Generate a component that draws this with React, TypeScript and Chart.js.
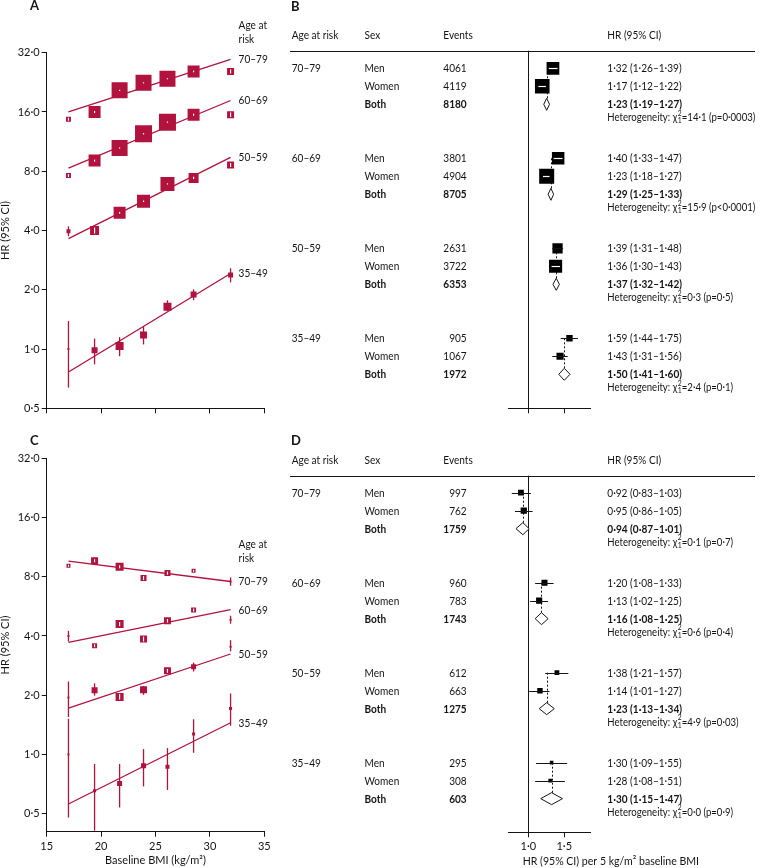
import React, { useEffect, useRef } from 'react';
import { Chart, registerables } from 'chart.js';

Chart.register(...registerables);

const FONT = 'Lato, "Noto Sans", "DejaVu Sans", sans-serif';
const CRIMSON = '#b1123e';
const INK = '#141414';
const TXT = 12;
const SX = 0.84;

// ---------------- Panels A and C: HR (95% CI) by baseline BMI ----------------
const bmiPoints = [17.0, 19.4, 21.7, 23.9, 26.1, 28.5, 31.9];
const fitEnds = [17.0, 31.9];
const bmiTicks = [15, 20, 25, 30, 35];
const hrTicks = [0.5, 1, 2, 4, 8, 16, 32];
const ageGroups = ['70–79', '60–69', '50–59', '35–49'];

// Panel A
const a70Hr = [14.7, 16.0, 20.6, 22.5, 23.6, 25.7, 25.7];
const a70Lo = [14.32, 15.8, 20.45, 22.35, 23.45, 25.45, 25.1];
const a70Hi = [15.08, 16.2, 20.75, 22.65, 23.75, 25.95, 26.3];
const a70Weight = [25, 144, 256, 256, 256, 144, 49];
const a70Fit = [16.0, 29.6];

const a60Hr = [7.6, 9.06, 10.5, 12.4, 14.2, 15.5, 15.5];
const a60Lo = [7.42, 8.96, 10.42, 12.3, 14.1, 15.32, 15.1];
const a60Hi = [7.78, 9.16, 10.58, 12.5, 14.3, 15.68, 15.9];
const a60Weight = [25, 144, 256, 289, 289, 144, 49];
const a60Fit = [8.3, 18.3];

const a50Hr = [3.97, 4.0, 4.92, 5.63, 6.9, 7.4, 8.6];
const a50Lo = [3.74, 3.86, 4.87, 5.58, 6.85, 7.3, 8.4];
const a50Hi = [4.2, 4.14, 4.97, 5.68, 6.95, 7.5, 8.8];
const a50Weight = [16, 81, 144, 169, 196, 100, 49];
const a50Fit = [3.64, 9.4];

const a35Hr = [1.0, 0.985, 1.035, 1.18, 1.64, 1.89, 2.38];
const a35Lo = [0.637, 0.836, 0.92, 1.055, 1.56, 1.77, 2.18];
const a35Hi = [1.387, 1.13, 1.15, 1.3, 1.77, 2.01, 2.57];
const a35Weight = [4, 36, 64, 49, 64, 36, 25];
const a35Fit = [0.764, 2.42];

// Panel C
const c70Hr = [9.1, 9.65, 8.99, 7.88, 8.35, 8.58, 7.57];
const c70Lo = [8.93, 9.48, 8.83, 7.62, 8.2, 8.42, 7.2];
const c70Hi = [9.27, 9.82, 9.15, 8.14, 8.5, 8.74, 7.94];
const c70Weight = [16, 49, 64, 36, 36, 16, 4];
const c70Fit = [9.6, 7.57];

const c60Hr = [4.0, 3.57, 4.6, 3.86, 4.78, 5.42, 4.84];
const c60Lo = [3.75, 3.47, 4.49, 3.74, 4.68, 5.28, 4.62];
const c60Hi = [4.25, 3.67, 4.71, 3.98, 4.88, 5.56, 5.07];
const c60Weight = [4, 25, 64, 49, 49, 25, 4];
const c60Fit = [3.71, 5.44];

const c50Hr = [1.95, 2.12, 1.96, 2.13, 2.66, 2.79, 3.53];
const c50Lo = [1.55, 1.99, 1.9, 2.01, 2.6, 2.64, 3.34];
const c50Hi = [2.35, 2.3, 2.03, 2.23, 2.72, 2.93, 3.81];
const c50Weight = [4, 36, 64, 49, 49, 25, 4];
const c50Fit = [1.72, 3.24];

const c35Hr = [1.0, 0.654, 0.712, 0.876, 0.866, 1.27, 1.71];
const c35Lo = [0.478, 0.41, 0.538, 0.688, 0.66, 1.02, 1.4];
const c35Hi = [1.52, 0.894, 0.894, 1.065, 1.077, 1.51, 2.04];
const c35Weight = [4, 9, 25, 25, 16, 9, 9];
const c35Fit = [0.56, 1.45];

// ---------------- Panels B and D: HR per 5 kg/m² ----------------
const sexLabels = ['Men', 'Women', 'Both'];
const forestTicks = [1, 1.5];

const bEvents = [[4061, 4119, 8180], [3801, 4904, 8705], [2631, 3722, 6353], [905, 1067, 1972]];
const bHr = [[1.32, 1.17, 1.23], [1.4, 1.23, 1.29], [1.39, 1.36, 1.37], [1.59, 1.43, 1.5]];
const bLo = [[1.26, 1.12, 1.19], [1.33, 1.18, 1.25], [1.31, 1.3, 1.32], [1.44, 1.31, 1.41]];
const bHi = [[1.39, 1.22, 1.27], [1.47, 1.27, 1.33], [1.48, 1.43, 1.42], [1.75, 1.56, 1.6]];
const bHetChi = [14.1, 15.9, 0.3, 2.4];
const bHetP = ['=0·0003', '<0·0001', '=0·5', '=0·1'];

const dEvents = [[997, 762, 1759], [960, 783, 1743], [612, 663, 1275], [295, 308, 603]];
const dHr = [[0.92, 0.95, 0.94], [1.2, 1.13, 1.16], [1.38, 1.14, 1.23], [1.3, 1.28, 1.3]];
const dLo = [[0.83, 0.86, 0.87], [1.08, 1.02, 1.08], [1.21, 1.01, 1.13], [1.09, 1.08, 1.15]];
const dHi = [[1.03, 1.05, 1.01], [1.33, 1.25, 1.25], [1.57, 1.27, 1.34], [1.55, 1.51, 1.47]];
const dHetChi = [0.1, 0.6, 4.9, 0.0];
const dHetP = ['=0·7', '=0·4', '=0·03', '=0·9'];

// ---------------- helpers ----------------
const dot = (s: string) => s.replace('.', '·');
const fmt1 = (v: number) => dot(v.toFixed(1));
const fmt2 = (v: number) => dot(v.toFixed(2));
const fontStr = (size: number, bold = false) => `${bold ? 'bold ' : ''}${size}px ${FONT}`;

function drawText(ctx: CanvasRenderingContext2D, s: string, x: number, y: number, size = TXT, bold = false, align: CanvasTextAlign = 'left', sx = SX) {
  ctx.save();
  ctx.font = fontStr(size, bold);
  ctx.fillStyle = INK;
  ctx.textAlign = align;
  ctx.textBaseline = 'middle';
  ctx.translate(x, y);
  ctx.scale(sx, 1);
  ctx.fillText(s, 0, 0);
  ctx.restore();
}

function textWidth(ctx: CanvasRenderingContext2D, s: string, size = TXT, bold = false, sx = SX) {
  ctx.save();
  ctx.font = fontStr(size, bold);
  const w = ctx.measureText(s).width * sx;
  ctx.restore();
  return w;
}

type Group = { label: string; hr: number[]; lo: number[]; hi: number[]; weight: number[]; fit: number[] };

const groupsA: Group[] = [
  { label: ageGroups[0], hr: a70Hr, lo: a70Lo, hi: a70Hi, weight: a70Weight, fit: a70Fit },
  { label: ageGroups[1], hr: a60Hr, lo: a60Lo, hi: a60Hi, weight: a60Weight, fit: a60Fit },
  { label: ageGroups[2], hr: a50Hr, lo: a50Lo, hi: a50Hi, weight: a50Weight, fit: a50Fit },
  { label: ageGroups[3], hr: a35Hr, lo: a35Lo, hi: a35Hi, weight: a35Weight, fit: a35Fit },
];
const groupsC: Group[] = [
  { label: ageGroups[0], hr: c70Hr, lo: c70Lo, hi: c70Hi, weight: c70Weight, fit: c70Fit },
  { label: ageGroups[1], hr: c60Hr, lo: c60Lo, hi: c60Hi, weight: c60Weight, fit: c60Fit },
  { label: ageGroups[2], hr: c50Hr, lo: c50Lo, hi: c50Hi, weight: c50Weight, fit: c50Fit },
  { label: ageGroups[3], hr: c35Hr, lo: c35Lo, hi: c35Hi, weight: c35Weight, fit: c35Fit },
];

const axisGrid = { drawOnChartArea: false, drawTicks: true, tickLength: 5, color: INK, lineWidth: 1 };
const axisBorder = { display: true, color: INK, width: 1 };

function bmiConfig(groups: Group[], o: { letter: string; letterY: number; yMin: number; padTop: number; xHeight: number; showX: boolean; ageDy: number }) {
  const datasets: any[] = [];
  groups.forEach((g) => {
    datasets.push({
      type: 'line',
      data: fitEnds.map((x, i) => ({ x, y: g.fit[i] })),
      borderColor: CRIMSON,
      borderWidth: 1.3,
      pointRadius: 0,
      order: 2,
    });
    datasets.push({
      type: 'scatter',
      data: bmiPoints.map((x, i) => ({ x, y: g.hr[i], lo: g.lo[i], hi: g.hi[i], w: g.weight[i] })),
      pointStyle: 'rect',
      pointRadius: (c: any) => (c.raw ? Math.sqrt(c.raw.w) / Math.SQRT2 : 0),
      pointHoverRadius: (c: any) => (c.raw ? Math.sqrt(c.raw.w) / Math.SQRT2 : 0),
      backgroundColor: CRIMSON,
      borderWidth: 0,
      order: 1,
    });
  });

  const ciPlugin = {
    id: 'ci' + o.letter,
    afterDatasetsDraw(chart: any) {
      const ctx = chart.ctx as CanvasRenderingContext2D;
      const ys = chart.scales.y;
      chart.data.datasets.forEach((ds: any, di: number) => {
        if (ds.type !== 'scatter') return;
        const meta = chart.getDatasetMeta(di);
        meta.data.forEach((el: any, i: number) => {
          const d = ds.data[i];
          const yLo = ys.getPixelForValue(d.lo);
          const yHi = ys.getPixelForValue(d.hi);
          const half = Math.sqrt(d.w) / 2;
          const inside = yLo <= el.y + half && yHi >= el.y - half;
          ctx.save();
          ctx.beginPath();
          if (inside) {
            let top = Math.max(yHi, el.y - half + 1);
            let bot = Math.min(yLo, el.y + half - 1);
            if (bot - top < 1) { top = el.y - 0.6; bot = el.y + 0.6; }
            ctx.strokeStyle = '#ffffff';
            ctx.lineWidth = 1.2;
            ctx.moveTo(el.x, top);
            ctx.lineTo(el.x, bot);
          } else {
            ctx.strokeStyle = CRIMSON;
            ctx.lineWidth = 1.3;
            ctx.moveTo(el.x, yHi);
            ctx.lineTo(el.x, yLo);
          }
          ctx.stroke();
          ctx.restore();
        });
      });
    },
    afterDraw(chart: any) {
      const ctx = chart.ctx as CanvasRenderingContext2D;
      const xs = chart.scales.x;
      const ys = chart.scales.y;
      drawText(ctx, o.letter, 30, o.letterY, 13, true, 'left', 1);
      const lx = xs.getPixelForValue(fitEnds[1]) + 8;
      groups.forEach((g) => drawText(ctx, g.label, lx, ys.getPixelForValue(g.fit[1])));
      const y70 = ys.getPixelForValue(groups[0].fit[1]);
      drawText(ctx, 'Age at', lx, y70 + o.ageDy);
      drawText(ctx, 'risk', lx, y70 + o.ageDy + 14);
    },
  };

  return {
    type: 'scatter',
    data: { datasets },
    plugins: [ciPlugin],
    options: {
      animation: false,
      responsive: false,
      events: [],
      layout: { padding: { left: 0, top: o.padTop, right: 15.7, bottom: 0 } },
      plugins: { legend: { display: false }, tooltip: { enabled: false } },
      scales: {
        x: {
          type: 'linear',
          min: 15,
          max: 35,
          bounds: 'data',
          afterBuildTicks: (s: any) => { s.ticks = bmiTicks.map((v) => ({ value: v })); },
          afterFit: (s: any) => { s.height = o.xHeight; },
          grid: axisGrid,
          border: axisBorder,
          ticks: { display: o.showX, color: INK, font: { family: FONT, size: 11 }, padding: 3, maxRotation: 0, autoSkip: false },
          title: {
            display: o.showX,
            text: 'Baseline BMI (kg/m²)',
            color: INK,
            font: { family: FONT, size: 11, lineHeight: 1.2 },
            padding: { top: 0, bottom: 1 },
          },
        },
        y: {
          type: 'logarithmic',
          min: o.yMin,
          max: 32,
          bounds: 'data',
          afterBuildTicks: (s: any) => { s.ticks = hrTicks.map((v) => ({ value: v })); },
          afterFit: (s: any) => { s.width = 46.7; },
          grid: axisGrid,
          border: axisBorder,
          ticks: {
            color: INK,
            font: { family: FONT, size: 11 },
            padding: 2,
            autoSkip: false,
            callback: (v: any) => fmt1(Number(v)),
          },
          title: {
            display: true,
            text: 'HR (95% CI)',
            color: INK,
            font: { family: FONT, size: 11, lineHeight: 1 },
            padding: 0,
          },
        },
      },
    },
  };
}

const boxSide = (lo: number, hi: number) => Math.min(15, 1.25 / Math.log(hi / lo));

function forestConfig(o: {
  letter: string; letterY: number; hr: number[][]; lo: number[][]; hi: number[][]; events: number[][];
  hetChi: number[]; hetP: string[]; yMin: number; yMax: number; padTop: number; xHeight: number; showX: boolean; title: boolean;
}) {
  const boxes: any[] = [];
  const pooled: any[] = [];
  o.hr.forEach((grp, g) => {
    grp.forEach((v, r) => {
      const pt = { x: v, y: g * 5 + r, lo: o.lo[g][r], hi: o.hi[g][r] };
      (r < 2 ? boxes : pooled).push(pt);
    });
  });

  const plugin = {
    id: 'forest' + o.letter,
    beforeDatasetsDraw(chart: any) {
      const ctx = chart.ctx as CanvasRenderingContext2D;
      const xs = chart.scales.x;
      const ys = chart.scales.y;
      ctx.save();
      ctx.strokeStyle = INK;
      ctx.lineWidth = 1;
      ctx.setLineDash([2, 2]);
      o.hr.forEach((grp, g) => {
        const x = Math.round(xs.getPixelForValue(grp[2])) + 0.5;
        ctx.beginPath();
        ctx.moveTo(x, ys.getPixelForValue(g * 5));
        ctx.lineTo(x, ys.getPixelForValue(g * 5 + 2) - 6);
        ctx.stroke();
      });
      ctx.restore();
    },
    afterDatasetsDraw(chart: any) {
      const ctx = chart.ctx as CanvasRenderingContext2D;
      const xs = chart.scales.x;
      const ys = chart.scales.y;
      boxes.forEach((p) => {
        const xc = xs.getPixelForValue(p.x);
        const xl = xs.getPixelForValue(p.lo);
        const xh = xs.getPixelForValue(p.hi);
        const y = Math.round(ys.getPixelForValue(p.y)) + 0.5;
        const half = boxSide(p.lo, p.hi) / 2;
        const inside = xl >= xc - half && xh <= xc + half;
        ctx.save();
        ctx.beginPath();
        if (inside) {
          ctx.strokeStyle = '#ffffff';
          ctx.lineWidth = 1.2;
          ctx.moveTo(Math.max(xl, xc - half + 1), y);
          ctx.lineTo(Math.min(xh, xc + half - 1), y);
        } else {
          ctx.strokeStyle = INK;
          ctx.lineWidth = 1;
          ctx.moveTo(xl, y);
          ctx.lineTo(xh, y);
        }
        ctx.stroke();
        ctx.restore();
      });
      pooled.forEach((p) => {
        const xc = xs.getPixelForValue(p.x);
        const xl = xs.getPixelForValue(p.lo);
        const xh = xs.getPixelForValue(p.hi);
        const y = ys.getPixelForValue(p.y);
        ctx.save();
        ctx.beginPath();
        ctx.moveTo(xl, y);
        ctx.lineTo(xc, y - 6);
        ctx.lineTo(xh, y);
        ctx.lineTo(xc, y + 6);
        ctx.closePath();
        ctx.fillStyle = '#ffffff';
        ctx.fill();
        ctx.strokeStyle = INK;
        ctx.lineWidth = 1;
        ctx.stroke();
        ctx.restore();
      });
    },
    afterDraw(chart: any) {
      const ctx = chart.ctx as CanvasRenderingContext2D;
      const ys = chart.scales.y;
      const top = chart.chartArea.top;
      const colAge = 11.7, colSex = 84.5, colEvents = 186.7, colHr = 327.3;
      drawText(ctx, o.letter, 11, o.letterY, 13, true, 'left', 1);
      const hy = top - 15.7;
      drawText(ctx, 'Age at risk', colAge, hy);
      drawText(ctx, 'Sex', colSex, hy);
      drawText(ctx, 'Events', colEvents - 23.4, hy);
      drawText(ctx, 'HR (95% CI)', colHr, hy);
      ctx.save();
      ctx.strokeStyle = INK;
      ctx.lineWidth = 1;
      ctx.beginPath();
      ctx.moveTo(10, Math.round(top) + 0.5);
      ctx.lineTo(475, Math.round(top) + 0.5);
      ctx.stroke();
      ctx.restore();
      const hetSx = 0.8;
      o.hr.forEach((grp, g) => {
        grp.forEach((v, r) => {
          const y = ys.getPixelForValue(g * 5 + r);
          const bold = r === 2;
          if (r === 0) drawText(ctx, ageGroups[g], colAge, y);
          drawText(ctx, sexLabels[r], colSex, y, TXT, bold);
          drawText(ctx, String(o.events[g][r]), colEvents, y, TXT, bold, 'right');
          drawText(ctx, `${fmt2(v)} (${fmt2(o.lo[g][r])}–${fmt2(o.hi[g][r])})`, colHr, y, TXT, bold);
        });
        const hyRow = ys.getPixelForValue(g * 5 + 2) + 13.3;
        const head = 'Heterogeneity: χ';
        const w = textWidth(ctx, head, TXT, false, hetSx);
        drawText(ctx, head, colHr, hyRow, TXT, false, 'left', hetSx);
        drawText(ctx, '2', colHr + w + 0.5, hyRow - 4, 7.5, false, 'left', 0.9);
        drawText(ctx, '1', colHr + w + 0.5, hyRow + 3.3, 7.5, false, 'left', 0.9);
        drawText(ctx, `=${fmt1(o.hetChi[g])} (p${o.hetP[g]})`, colHr + w + 4.5, hyRow, TXT, false, 'left', hetSx);
      });
      if (o.title) {
        drawText(ctx, 'HR (95% CI) per 5 kg/m² baseline BMI', 242.7, chart.height - 7.3, TXT, false, 'left', 0.88);
      }
    },
  };

  return {
    type: 'scatter',
    data: {
      datasets: [
        {
          type: 'scatter',
          data: boxes,
          pointStyle: 'rect',
          pointRadius: (c: any) => (c.raw ? boxSide(c.raw.lo, c.raw.hi) / Math.SQRT2 : 0),
          pointHoverRadius: (c: any) => (c.raw ? boxSide(c.raw.lo, c.raw.hi) / Math.SQRT2 : 0),
          backgroundColor: '#000000',
          borderWidth: 0,
        },
        { type: 'scatter', data: pooled, pointRadius: 0, pointHoverRadius: 0 },
      ],
    },
    plugins: [plugin],
    options: {
      animation: false,
      responsive: false,
      events: [],
      layout: { padding: { left: 228.3, top: o.padTop, right: 169.3, bottom: 0 } },
      plugins: { legend: { display: false }, tooltip: { enabled: false } },
      scales: {
        x: {
          type: 'logarithmic',
          min: 0.798,
          max: 2.02,
          bounds: 'data',
          afterBuildTicks: (s: any) => { s.ticks = forestTicks.map((v) => ({ value: v })); },
          afterFit: (s: any) => { s.height = o.xHeight; },
          grid: {
            drawOnChartArea: true,
            drawTicks: true,
            tickLength: 5,
            lineWidth: 1,
            color: (c: any) => (c.tick && c.tick.value === 1 ? INK : 'rgba(0,0,0,0)'),
            tickColor: INK,
          },
          border: axisBorder,
          ticks: {
            display: o.showX,
            color: INK,
            font: { family: FONT, size: 11 },
            padding: 3,
            maxRotation: 0,
            autoSkip: false,
            callback: (v: any) => fmt1(Number(v)),
          },
        },
        y: { type: 'linear', display: false, reverse: true, min: o.yMin, max: o.yMax },
      },
    },
  };
}

function Panel(props: { left: number; top: number; width: number; height: number; make: () => any }) {
  const ref = useRef<HTMLCanvasElement | null>(null);
  useEffect(() => {
    const chart = new Chart(ref.current as HTMLCanvasElement, props.make());
    return () => chart.destroy();
  }, []);
  return (
    <canvas
      ref={ref}
      width={props.width}
      height={props.height}
      style={{ position: 'absolute', left: props.left, top: props.top, width: props.width, height: props.height }}
    />
  );
}

export default function App() {
  return (
    <div style={{ position: 'absolute', left: 0, top: 0, width: 760, height: 868, background: '#ffffff', overflow: 'hidden' }}>
      <Panel
        left={0} top={0} width={280} height={430}
        make={() => bmiConfig(groupsA, { letter: 'A', letterY: 5.5, yMin: 0.5, padTop: 52.7, xHeight: 21.7, showX: false, ageDy: -34.5 })}
      />
      <Panel
        left={0} top={430} width={280} height={438}
        make={() => bmiConfig(groupsC, { letter: 'C', letterY: 11, yMin: 0.405, padTop: 28.3, xHeight: 36.3, showX: true, ageDy: -37 })}
      />
      <Panel
        left={280} top={0} width={480} height={430}
        make={() => forestConfig({ letter: 'B', letterY: 6.5, hr: bHr, lo: bLo, hi: bHi, events: bEvents, hetChi: bHetChi, hetP: bHetP, yMin: -0.978, yMax: 18.89, padTop: 50.7, xHeight: 21.7, showX: false, title: false })}
      />
      <Panel
        left={280} top={430} width={480} height={438}
        make={() => forestConfig({ letter: 'D', letterY: 10.5, hr: dHr, lo: dLo, hi: dHi, events: dEvents, hetChi: dHetChi, hetP: dHetP, yMin: -0.944, yMax: 18.87, padTop: 45.7, xHeight: 35.7, showX: true, title: true })}
      />
    </div>
  );
}
